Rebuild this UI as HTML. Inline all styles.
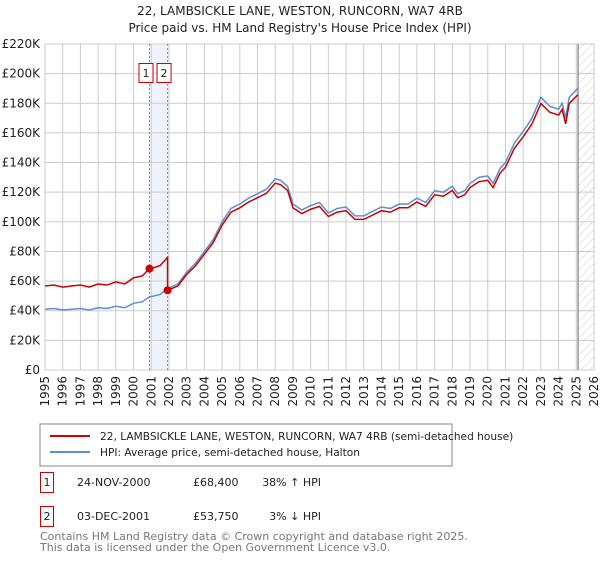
<!DOCTYPE html>
<html><head><meta charset="utf-8"><style>
body{margin:0;background:#fff;font-family:"DejaVu Sans","Liberation Sans",sans-serif;}
svg text{font-family:"DejaVu Sans","Liberation Sans",sans-serif;}
</style></head><body>
<svg id="chart" width="600" height="560" xmlns="http://www.w3.org/2000/svg">
<defs><pattern id="hatch" width="6" height="6" patternUnits="userSpaceOnUse" patternTransform="rotate(45)"><line x1="0" y1="0" x2="0" y2="6" stroke="#ccc" stroke-width="1"/></pattern></defs>
<text x="300" y="15" text-anchor="middle" font-size="12" fill="#222">22, LAMBSICKLE LANE, WESTON, RUNCORN, WA7 4RB</text>
<text x="300" y="32" text-anchor="middle" font-size="12" fill="#222">Price paid vs. HM Land Registry's House Price Index (HPI)</text>
<g id="grid"></g><g id="marks"></g><g id="axes"></g>
<rect x="40" y="424" width="412" height="42" fill="#fff" stroke="#888"/>
<line x1="50" y1="436" x2="90" y2="436" stroke="#cc0000" stroke-width="2"/>
<text x="100" y="440" font-size="10.6" fill="#222">22, LAMBSICKLE LANE, WESTON, RUNCORN, WA7 4RB (semi-detached house)</text>
<line x1="50" y1="452" x2="90" y2="452" stroke="#5b8fd4" stroke-width="2"/>
<text x="100" y="456" font-size="10.6" fill="#222">HPI: Average price, semi-detached house, Halton</text>
<g>
<rect x="40.5" y="472.5" width="13" height="20" fill="#fff" stroke="#cc0000"/>
<text x="47" y="486" font-size="11" text-anchor="middle" fill="#222">1</text>
<text x="77" y="486" font-size="11" fill="#222">24-NOV-2000</text>
<text x="193" y="486" font-size="11" fill="#222">£68,400</text>
<text x="321" y="486" font-size="11" text-anchor="end" fill="#222">38% ↑ HPI</text></g>
<g>
<rect x="40.5" y="506.5" width="13" height="20" fill="#fff" stroke="#cc0000"/>
<text x="47" y="520" font-size="11" text-anchor="middle" fill="#222">2</text>
<text x="77" y="520" font-size="11" fill="#222">03-DEC-2001</text>
<text x="193" y="520" font-size="11" fill="#222">£53,750</text>
<text x="321" y="520" font-size="11" text-anchor="end" fill="#222">3% ↓ HPI</text></g>
<text x="40" y="540" font-size="11" fill="#777">Contains HM Land Registry data © Crown copyright and database right 2025.</text>
<text x="40" y="551" font-size="11" fill="#777">This data is licensed under the Open Government Licence v3.0.</text>
</svg>
<script>
const hpiYears=[1995,1995.5,1996,1996.5,1997,1997.5,1998,1998.5,1999,1999.5,2000,2000.5,2000.9,2001,2001.5,2001.92,2002.5,2003,2003.5,2004,2004.5,2005,2005.5,2006,2006.5,2007,2007.5,2008,2008.3,2008.7,2009,2009.5,2010,2010.5,2011,2011.5,2012,2012.5,2013,2013.5,2014,2014.5,2015,2015.5,2016,2016.5,2017,2017.5,2018,2018.3,2018.7,2019,2019.5,2020,2020.3,2020.7,2021,2021.5,2022,2022.5,2023,2023.5,2024,2024.2,2024.4,2024.6,2025,2025.1];
const hpiValues=[41,41.5,40.5,41,41.5,40.5,42,41.5,43,42,45,46,49.5,49.5,51,55,58,66,72,80,88,100,109,112,116,119,122,129,128,124,112,108,111,113,106,109,110,104,104,107,110,109,112,112,116,113,121,120,124,119,121,126,130,131,126,136,140,153,161,170,184,178,176,180,170,184,189,190];
const saleYears=[2000.9,2001.92];
const salePrices=[68.4,53.75];
const yTicks=[0,20,40,60,80,100,120,140,160,180,200,220];
const yTickLabels=["£0","£20K","£40K","£60K","£80K","£100K","£120K","£140K","£160K","£180K","£200K","£220K"];
const xTicks=[1995,1996,1997,1998,1999,2000,2001,2002,2003,2004,2005,2006,2007,2008,2009,2010,2011,2012,2013,2014,2015,2016,2017,2018,2019,2020,2021,2022,2023,2024,2025,2026];
const dataEnd=2025.1;
const X0=45,X1=594,Y0=370,Y1=44;
const sx=v=>X0+(v-1995)/(2026-1995)*(X1-X0);
const sy=v=>Y0-v/220*(Y0-Y1);
const NS="http://www.w3.org/2000/svg";
function mk(p,t,a){const e=document.createElementNS(NS,t);for(const k in a)e.setAttribute(k,a[k]);p.appendChild(e);return e;}
const grid=document.getElementById('grid'),marks=document.getElementById('marks'),axes=document.getElementById('axes');
mk(grid,'rect',{x:sx(saleYears[0]),y:Y1,width:sx(saleYears[1])-sx(saleYears[0]),height:Y0-Y1,fill:'#eef3fc'});
mk(grid,'rect',{x:sx(dataEnd),y:Y1,width:X1-sx(dataEnd),height:Y0-Y1,fill:'url(#hatch)'});
yTicks.forEach((v,i)=>{
 const l=mk(grid,'line',{x1:X0,x2:X1,y1:sy(v),y2:sy(v),stroke:'#ccc'});
 
 
 const t=mk(axes,'text',{x:X0-5,y:sy(v)+4,'text-anchor':'end','font-size':'12',fill:'#222'});
 t.textContent=yTickLabels[i];
 
 
});
xTicks.forEach(v=>{
 const l=mk(grid,'line',{x1:sx(v),x2:sx(v),y1:Y1,y2:Y0,stroke:'#ccc'});
 
 
 const t=mk(axes,'text',{x:0,y:0,transform:`translate(${sx(v)+4},376) rotate(-90)`,'text-anchor':'end','font-size':'12',fill:'#222'});
 t.textContent=v;
 
 
});
const de=mk(grid,'line',{x1:sx(dataEnd),x2:sx(dataEnd),y1:Y1,y2:Y0,stroke:'#999','stroke-width':1.5});


function hpiAt(y){for(let i=1;i<hpiYears.length;i++){if(y<=hpiYears[i]){const f=(y-hpiYears[i-1])/(hpiYears[i]-hpiYears[i-1]);return hpiValues[i-1]+f*(hpiValues[i]-hpiValues[i-1]);}}return hpiValues[hpiValues.length-1];}
saleYears.forEach((s,i)=>{
 const l=mk(marks,'line',{x1:sx(s),x2:sx(s),y1:Y1,y2:Y0,stroke:'#e66','stroke-dasharray':'2,2'});
 
 
 const bx=sx(s)-3.5;
 const r=mk(marks,'rect',{x:bx-7,y:63.5,width:14,height:19,fill:'#fff',stroke:'#cc0000'});
 
 
 const t=mk(marks,'text',{x:bx,y:77,'text-anchor':'middle','font-size':'11',fill:'#222'});
 t.textContent=String(i+1);
 
 
});
const hp=mk(marks,'polyline',{points:hpiYears.map((y,i)=>sx(y)+','+sy(hpiValues[i])).join(' '),fill:'none',stroke:'#5b8fd4','stroke-width':1.5});


const r1=salePrices[0]/hpiAt(saleYears[0]),r2=salePrices[1]/hpiAt(saleYears[1]);
const pts=[];
hpiYears.forEach((y,i)=>{if(y<saleYears[1])pts.push([y,hpiValues[i]*r1]);});
pts.push([saleYears[1],hpiAt(saleYears[1])*r1]);
pts.push([saleYears[1],salePrices[1]]);
hpiYears.forEach((y,i)=>{if(y>saleYears[1])pts.push([y,hpiValues[i]*r2]);});
const pp=mk(marks,'polyline',{points:pts.map(p=>sx(p[0])+','+sy(p[1])).join(' '),fill:'none',stroke:'#cc0000','stroke-width':1.5});


saleYears.forEach((s,i)=>{
 const c=mk(marks,'circle',{cx:sx(s),cy:sy(salePrices[i]),r:4,fill:'#cc0000'});
 
 
});
</script>
</body></html>
